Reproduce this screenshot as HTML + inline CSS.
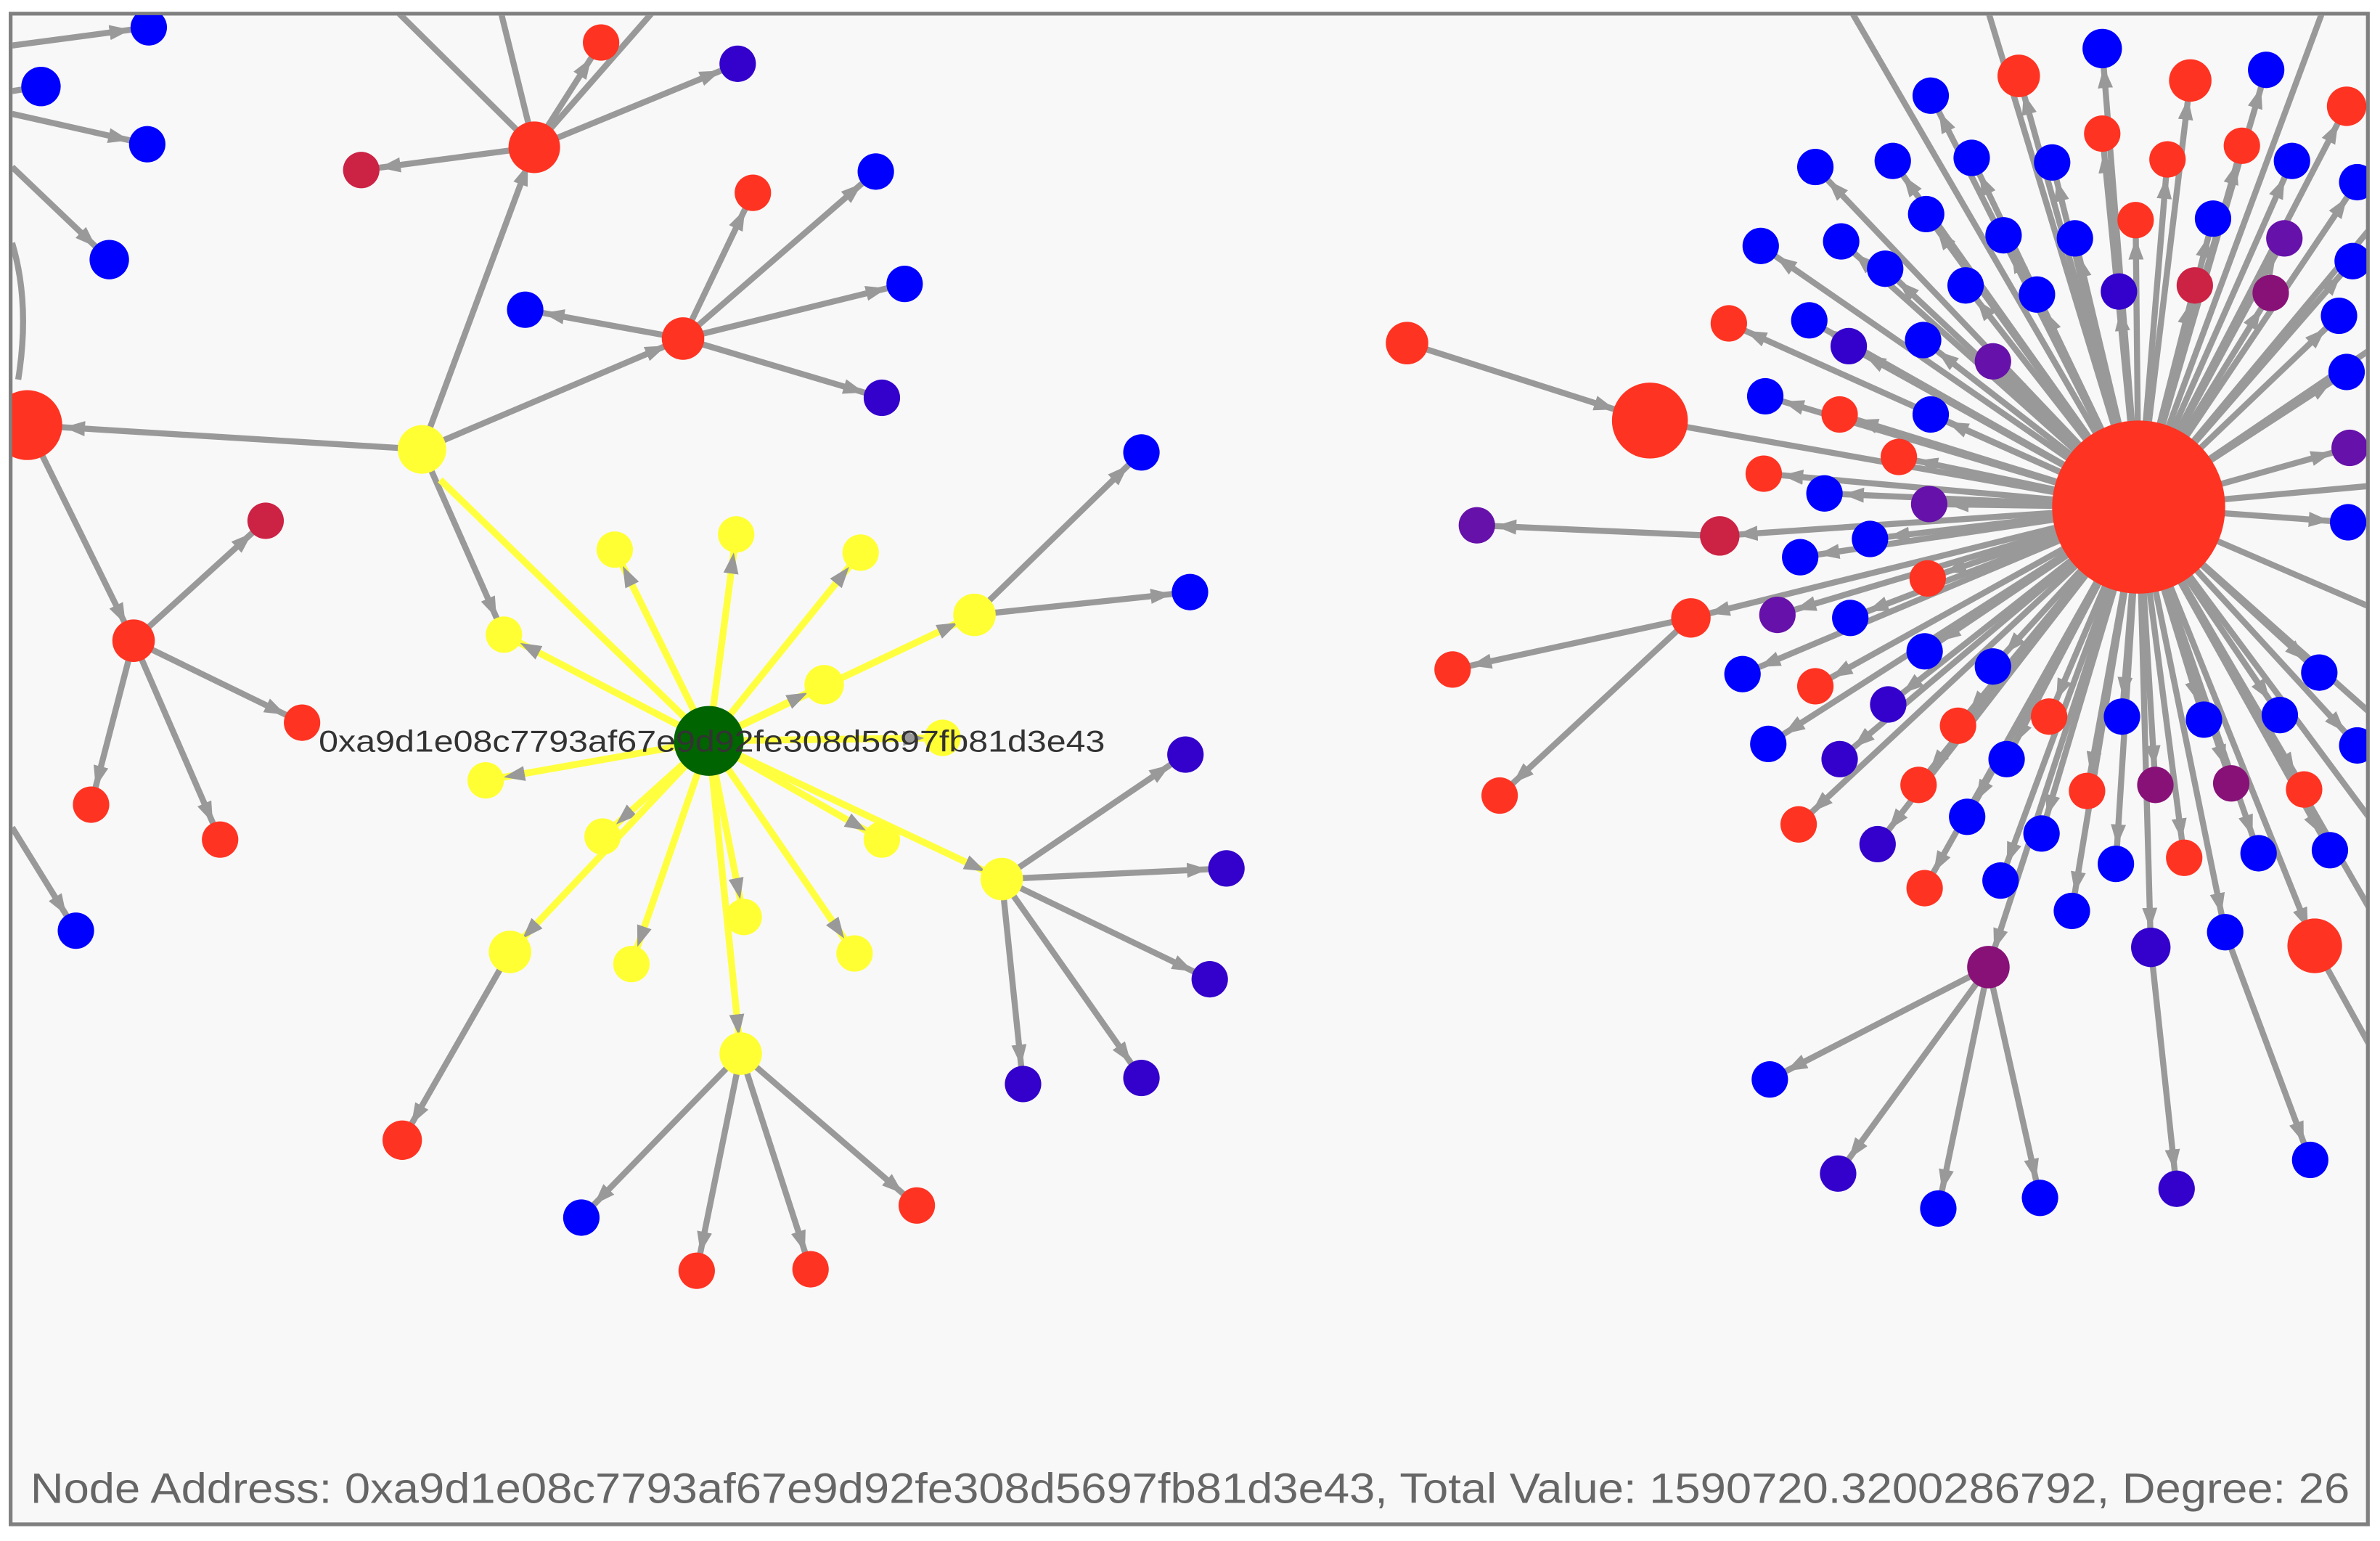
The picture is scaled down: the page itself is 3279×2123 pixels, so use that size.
<!DOCTYPE html>
<html><head><meta charset="utf-8"><style>
html,body{margin:0;padding:0;background:#fff;width:3279px;height:2123px;overflow:hidden}
svg{display:block}
</style></head><body>
<svg width="3279" height="2123" viewBox="0 0 1568 1015" preserveAspectRatio="none" xmlns="http://www.w3.org/2000/svg">
<defs>
<marker id="a" viewBox="0 0 14 10" refX="26" refY="5" markerWidth="14" markerHeight="10" markerUnits="userSpaceOnUse" orient="auto"><path d="M0,0L14,5L0,10z" fill="#999"/></marker>
<marker id="b" viewBox="0 0 14 10" refX="38" refY="5" markerWidth="14" markerHeight="10" markerUnits="userSpaceOnUse" orient="auto"><path d="M0,0L14,5L0,10z" fill="#999"/></marker>
<clipPath id="c"><rect x="8" y="10" width="1551" height="993"/></clipPath>
</defs>
<rect x="7" y="9" width="1553" height="995" fill="#f8f8f8" stroke="#808080" stroke-width="2.5"/>
<g clip-path="url(#c)">
<g stroke="#999" stroke-width="4" fill="none" marker-end="url(#a)">
<path d="M278,296L352,97"/><path d="M278,296L450,223"/><path d="M278,296L18,280" marker-end="url(#b)"/><path d="M278,296L332,418"/>
<path d="M352,97L238,112"/><path d="M352,97L486,42"/><path d="M352,97L396,28"/>
<path d="M352,97L262,8" marker-end="none"/><path d="M352,97L330,8" marker-end="none"/><path d="M352,97L430,8" marker-end="none"/>
<path d="M450,223L346,204"/><path d="M450,223L496,127"/><path d="M450,223L577,113"/><path d="M450,223L596,187"/><path d="M450,223L581,262"/>
<path d="M18,280L88,422"/><path d="M88,422L175,343"/><path d="M88,422L199,476"/><path d="M88,422L60,530"/><path d="M88,422L145,553"/>
<path d="M8,30L98,18"/><path d="M8,60L27,57" marker-end="none"/><path d="M8,75L97,95"/><path d="M8,110L72,171"/><path d="M8,160Q20,200 12,250" marker-end="none"/>
<path d="M8,545L50,613"/>
<path d="M642,405L752,298"/><path d="M642,405L784,390"/>
<path d="M660,579L781,497"/><path d="M660,579L808,572"/><path d="M660,579L797,645"/><path d="M660,579L674,714"/><path d="M660,579L752,710"/>
<path d="M336,627L265,751"/>
<path d="M488,694L383,802"/><path d="M488,694L459,837"/><path d="M488,694L534,836"/><path d="M488,694L604,794"/>
</g>
<g stroke="#ffff40" stroke-width="4.5" fill="none" marker-end="url(#a)">
<path d="M290,316L467,488" marker-end="none"/>
<path d="M467,488L332,418"/><path d="M467,488L405,362"/><path d="M467,488L485,352"/><path d="M467,488L567,364"/><path d="M467,488L642,405"/><path d="M467,488L543,451"/><path d="M467,488L621,486"/><path d="M467,488L320,514"/><path d="M467,488L397,551"/><path d="M467,488L581,553"/><path d="M467,488L660,579"/><path d="M467,488L490,604"/><path d="M467,488L563,628"/><path d="M467,488L416,635"/><path d="M467,488L336,627"/><path d="M467,488L488,694"/>
</g>
<g stroke="#999" stroke-width="4" fill="none" marker-end="url(#a)">
<path d="M927,226L1087,277" marker-end="url(#b)"/><path d="M1087,277L1409,334" marker-end="none"/>
<path d="M1132,353L973,346"/><path d="M1114,407L957,441"/><path d="M1114,407L988,524"/>
<path d="M1409,334L1132,353"/><path d="M1409,334L1114,407"/>
<path d="M1310,637L1166,711"/><path d="M1310,637L1211,773"/><path d="M1310,637L1277,796"/><path d="M1310,637L1344,789"/>
<path d="M1417,624L1434,783"/><path d="M1466,614L1522,764"/><path d="M1525,623L1562,690" marker-end="none"/>
<path d="M1409,334L1220,8" marker-end="none"/><path d="M1409,334L1310,8" marker-end="none"/><path d="M1409,334L1530,8" marker-end="none"/>
<path d="M1409,334L1562,150" marker-end="none"/><path d="M1409,334L1562,230" marker-end="none"/><path d="M1409,334L1562,320" marker-end="none"/><path d="M1409,334L1562,400" marker-end="none"/><path d="M1409,334L1562,470" marker-end="none"/><path d="M1409,334L1562,540" marker-end="none"/><path d="M1409,334L1562,600" marker-end="none"/>
<path d="M1409,334L1272,63"/><path d="M1409,334L1385,32"/><path d="M1409,334L1493,46"/><path d="M1409,334L1196,110"/><path d="M1409,334L1247,106"/><path d="M1409,334L1299,104"/><path d="M1409,334L1352,107"/><path d="M1409,334L1510,106"/><path d="M1409,334L1269,141"/><path d="M1409,334L1320,155"/><path d="M1409,334L1367,157"/><path d="M1409,334L1458,144"/><path d="M1409,334L1160,162"/><path d="M1409,334L1213,159"/><path d="M1409,334L1242,177"/><path d="M1409,334L1295,188"/><path d="M1409,334L1342,194"/><path d="M1409,334L1553,120"/><path d="M1409,334L1550,172"/><path d="M1409,334L1541,208"/><path d="M1409,334L1192,211"/><path d="M1409,334L1267,224"/><path d="M1409,334L1163,261"/><path d="M1409,334L1272,273"/><path d="M1409,334L1546,245"/><path d="M1409,334L1202,325"/><path d="M1409,334L1232,355"/><path d="M1409,334L1186,367"/><path d="M1409,334L1547,344"/><path d="M1409,334L1219,407"/><path d="M1409,334L1148,444"/><path d="M1409,334L1268,429"/><path d="M1409,334L1313,439"/><path d="M1409,334L1528,443"/><path d="M1409,334L1165,490"/><path d="M1409,334L1398,472"/><path d="M1409,334L1452,474"/><path d="M1409,334L1502,471"/><path d="M1409,334L1553,491"/><path d="M1409,334L1322,500"/><path d="M1409,334L1296,538"/><path d="M1409,334L1345,549"/><path d="M1409,334L1488,562"/><path d="M1409,334L1535,560"/><path d="M1409,334L1394,569"/><path d="M1409,334L1318,580"/><path d="M1409,334L1365,600"/><path d="M1409,334L1466,614"/>
<path d="M1409,334L1330,50"/><path d="M1409,334L1443,53"/><path d="M1409,334L1546,70"/><path d="M1409,334L1385,88"/><path d="M1409,334L1428,105"/><path d="M1409,334L1477,96"/><path d="M1409,334L1407,145"/><path d="M1409,334L1139,213"/><path d="M1409,334L1212,273"/><path d="M1409,334L1251,301"/><path d="M1409,334L1162,312"/><path d="M1409,334L1270,381"/><path d="M1409,334L1196,452"/><path d="M1409,334L1290,478"/><path d="M1409,334L1350,472"/><path d="M1409,334L1264,517"/><path d="M1409,334L1375,521"/><path d="M1409,334L1518,520"/><path d="M1409,334L1185,543"/><path d="M1409,334L1439,565"/><path d="M1409,334L1268,585"/><path d="M1409,334L1525,623"/>
<path d="M1409,334L1218,228"/><path d="M1409,334L1313,238"/><path d="M1409,334L1396,192"/><path d="M1409,334L1505,157"/><path d="M1409,334L1271,332"/><path d="M1409,334L1171,405"/><path d="M1409,334L1244,464"/><path d="M1409,334L1212,500"/><path d="M1409,334L1237,556"/><path d="M1409,334L1417,624"/><path d="M1409,334L1548,295"/><path d="M1409,334L1446,188"/><path d="M1409,334L1496,193"/><path d="M1409,334L1420,517"/><path d="M1409,334L1470,516"/><path d="M1409,334L1310,637"/>
</g>
<g fill="#ffff33">
<circle cx="278" cy="296" r="16"/><circle cx="332" cy="418" r="12"/><circle cx="405" cy="362" r="12"/><circle cx="485" cy="352" r="12"/><circle cx="567" cy="364" r="12"/><circle cx="642" cy="405" r="14"/><circle cx="543" cy="451" r="13"/><circle cx="621" cy="486" r="12"/><circle cx="320" cy="514" r="12"/><circle cx="397" cy="551" r="12"/><circle cx="581" cy="553" r="12"/><circle cx="660" cy="579" r="14"/><circle cx="490" cy="604" r="12"/><circle cx="563" cy="628" r="12"/><circle cx="416" cy="635" r="12"/><circle cx="336" cy="627" r="14"/><circle cx="488" cy="694" r="14"/>
</g>
<g fill="#ff3322">
<circle cx="352" cy="97" r="17"/><circle cx="450" cy="223" r="14"/><circle cx="18" cy="280" r="23"/><circle cx="88" cy="422" r="14"/><circle cx="396" cy="28" r="12"/><circle cx="496" cy="127" r="12"/><circle cx="199" cy="476" r="12"/><circle cx="60" cy="530" r="12"/><circle cx="145" cy="553" r="12"/><circle cx="265" cy="751" r="13"/><circle cx="459" cy="837" r="12"/><circle cx="534" cy="836" r="12"/><circle cx="604" cy="794" r="12"/>
</g>
<g fill="#cc2244"><circle cx="238" cy="112" r="12"/><circle cx="175" cy="343" r="12"/></g>
<g fill="#0000ff">
<circle cx="98" cy="18" r="12"/><circle cx="27" cy="57" r="13"/><circle cx="97" cy="95" r="12"/><circle cx="72" cy="171" r="13"/><circle cx="50" cy="613" r="12"/><circle cx="346" cy="204" r="12"/><circle cx="577" cy="113" r="12"/><circle cx="596" cy="187" r="12"/><circle cx="752" cy="298" r="12"/><circle cx="784" cy="390" r="12"/><circle cx="383" cy="802" r="12"/>
</g>
<g fill="#3300cc">
<circle cx="486" cy="42" r="12"/><circle cx="581" cy="262" r="12"/><circle cx="781" cy="497" r="12"/><circle cx="808" cy="572" r="12"/><circle cx="797" cy="645" r="12"/><circle cx="674" cy="714" r="12"/><circle cx="752" cy="710" r="12"/>
</g>
<circle cx="467" cy="488" r="23" fill="#006400"/>
<text x="210" y="495" font-family="Liberation Sans, sans-serif" font-size="20" fill="#333" textLength="518" lengthAdjust="spacingAndGlyphs">0xa9d1e08c7793af67e9d92fe308d5697fb81d3e43</text>
<circle cx="1409" cy="334" r="57" fill="#ff3322"/>
<circle cx="1087" cy="277" r="25" fill="#ff3322"/>
<g fill="#ff3322">
<circle cx="927" cy="226" r="14"/><circle cx="1114" cy="407" r="13"/><circle cx="957" cy="441" r="12"/><circle cx="988" cy="524" r="12"/>
<circle cx="1330" cy="50" r="14"/><circle cx="1443" cy="53" r="14"/><circle cx="1546" cy="70" r="13"/><circle cx="1385" cy="88" r="12"/><circle cx="1428" cy="105" r="12"/><circle cx="1477" cy="96" r="12"/><circle cx="1407" cy="145" r="12"/><circle cx="1139" cy="213" r="12"/><circle cx="1212" cy="273" r="12"/><circle cx="1251" cy="301" r="12"/><circle cx="1162" cy="312" r="12"/><circle cx="1270" cy="381" r="12"/><circle cx="1196" cy="452" r="12"/><circle cx="1290" cy="478" r="12"/><circle cx="1350" cy="472" r="12"/><circle cx="1264" cy="517" r="12"/><circle cx="1375" cy="521" r="12"/><circle cx="1518" cy="520" r="12"/><circle cx="1185" cy="543" r="12"/><circle cx="1439" cy="565" r="12"/><circle cx="1268" cy="585" r="12"/><circle cx="1525" cy="623" r="18"/>
</g>
<g fill="#0000ff">
<circle cx="1272" cy="63" r="12"/><circle cx="1385" cy="32" r="13"/><circle cx="1493" cy="46" r="12"/><circle cx="1196" cy="110" r="12"/><circle cx="1247" cy="106" r="12"/><circle cx="1299" cy="104" r="12"/><circle cx="1352" cy="107" r="12"/><circle cx="1510" cy="106" r="12"/><circle cx="1269" cy="141" r="12"/><circle cx="1320" cy="155" r="12"/><circle cx="1367" cy="157" r="12"/><circle cx="1458" cy="144" r="12"/><circle cx="1160" cy="162" r="12"/><circle cx="1213" cy="159" r="12"/><circle cx="1242" cy="177" r="12"/><circle cx="1295" cy="188" r="12"/><circle cx="1342" cy="194" r="12"/><circle cx="1553" cy="120" r="12"/><circle cx="1550" cy="172" r="12"/><circle cx="1541" cy="208" r="12"/><circle cx="1192" cy="211" r="12"/><circle cx="1267" cy="224" r="12"/><circle cx="1163" cy="261" r="12"/><circle cx="1272" cy="273" r="12"/><circle cx="1546" cy="245" r="12"/><circle cx="1202" cy="325" r="12"/><circle cx="1232" cy="355" r="12"/><circle cx="1186" cy="367" r="12"/><circle cx="1547" cy="344" r="12"/><circle cx="1219" cy="407" r="12"/><circle cx="1148" cy="444" r="12"/><circle cx="1268" cy="429" r="12"/><circle cx="1313" cy="439" r="12"/><circle cx="1528" cy="443" r="12"/><circle cx="1165" cy="490" r="12"/><circle cx="1398" cy="472" r="12"/><circle cx="1452" cy="474" r="12"/><circle cx="1502" cy="471" r="12"/><circle cx="1553" cy="491" r="12"/><circle cx="1322" cy="500" r="12"/><circle cx="1296" cy="538" r="12"/><circle cx="1345" cy="549" r="12"/><circle cx="1488" cy="562" r="12"/><circle cx="1535" cy="560" r="12"/><circle cx="1394" cy="569" r="12"/><circle cx="1318" cy="580" r="12"/><circle cx="1365" cy="600" r="12"/><circle cx="1466" cy="614" r="12"/><circle cx="1166" cy="711" r="12"/><circle cx="1277" cy="796" r="12"/><circle cx="1344" cy="789" r="12"/><circle cx="1522" cy="764" r="12"/>
</g>
<g fill="#3300cc">
<circle cx="1218" cy="228" r="12"/><circle cx="1396" cy="192" r="12"/><circle cx="1244" cy="464" r="12"/><circle cx="1212" cy="500" r="12"/><circle cx="1237" cy="556" r="12"/><circle cx="1417" cy="624" r="13"/><circle cx="1434" cy="783" r="12"/><circle cx="1211" cy="773" r="12"/>
</g>
<g fill="#6611aa">
<circle cx="1313" cy="238" r="12"/><circle cx="1505" cy="157" r="12"/><circle cx="1271" cy="332" r="12"/><circle cx="1171" cy="405" r="12"/><circle cx="1548" cy="295" r="12"/><circle cx="973" cy="346" r="12"/>
</g>
<g fill="#cc2244"><circle cx="1446" cy="188" r="12"/><circle cx="1133" cy="353" r="13"/></g>
<g fill="#881177"><circle cx="1496" cy="193" r="12"/><circle cx="1420" cy="517" r="12"/><circle cx="1470" cy="516" r="12"/><circle cx="1310" cy="637" r="14"/></g>
</g>
<text x="20" y="990" font-family="Liberation Sans, sans-serif" font-size="28" fill="#666" textLength="1528" lengthAdjust="spacingAndGlyphs">Node Address: 0xa9d1e08c7793af67e9d92fe308d5697fb81d3e43, Total Value: 1590720.3200286792, Degree: 26</text>
</svg>
</body></html>
